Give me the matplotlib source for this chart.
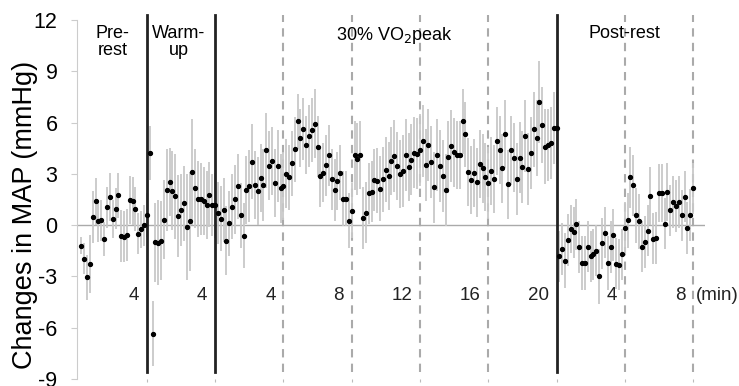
import numpy as np
import matplotlib
matplotlib.use("Agg")
import matplotlib.pyplot as plt

plt.rcParams['font.family'] = ['Liberation Sans', 'DejaVu Sans']
plt.rcParams['axes.unicode_minus'] = False

# mean change in MAP every 10 s (mmHg)
pre_rest = [-1.19, -1.97, -3.05, -2.26, 0.48, 1.39, 0.22, 0.28, -0.79, 1.06, 1.64, 0.35,
            0.95, 1.74, -0.63, -0.67, -0.58, 1.45, 1.42, 0.95, -0.51, -0.25, 0.0, 0.61]
warm_up = [4.23, -6.34, -1.0, -1.02, -0.9, 0.32, 2.07, 2.52, 2.03, 1.68, 0.53, 0.88,
           1.27, -0.12, 0.24, 3.12, 2.15, 1.53, 1.51, 1.43, 1.2, 1.78, 1.19, 1.17]
exercise = [0.71, 0.38, 0.89, -0.9, 0.11, 1.08, 1.51, 2.27, 0.59, -0.61, 2.05, 2.3,
            3.71, 2.35, 1.99, 2.75, 2.36, 4.39, 3.49, 3.74, 2.46, 3.45, 2.15, 2.3,
            3.02, 2.81, 3.61, 4.43, 6.07, 5.1, 5.63, 4.68, 5.21, 5.57, 5.94, 4.6,
            2.85, 3.08, 3.5, 4.08, 2.68, 2.05, 2.6, 3.08, 1.55, 1.55, 0.27, 0.86,
            4.08, 3.86, 4.1, 0.42, 0.74, 1.86, 1.96, 2.64, 2.6, 2.12, 2.7, 3.24,
            2.87, 3.77, 4.03, 3.47, 3.0, 3.18, 4.1, 3.4, 3.84, 4.25, 4.19, 4.39,
            4.93, 3.51, 4.68, 3.69, 2.21, 4.12, 3.45, 2.88, 2.08, 3.98, 4.64, 4.26,
            4.09, 4.09, 6.08, 5.31, 3.1, 2.65, 3.05, 2.5, 3.57, 3.32, 2.81, 2.46,
            3.18, 2.7, 4.94, 4.41, 3.32, 5.34, 2.39, 4.38, 3.96, 2.71, 3.96, 3.41,
            5.24, 3.27, 4.23, 5.62, 5.1, 7.19, 5.86, 4.6, 4.71, 4.79, 5.69, 5.7]
post_rest = [-1.82, -1.4, -2.07, -0.87, -0.22, -0.42, 0.06, -1.27, -2.21, -2.21, -1.26, -1.82,
             -1.7, -1.49, -3.0, -1.07, -0.44, -2.21, -1.27, -0.57, -2.25, -2.3, -1.7, -0.16,
             0.28, 2.8, 2.33, 0.57, 0.23, -1.26, -0.98, -0.32, 1.72, -0.78, -0.75, 1.89,
             1.86, 0.08, 1.92, 0.88, 1.36, 1.12, 1.36, 0.57, 1.67, -0.17, 0.59, 2.15]

# SEM half-lengths of the bars (mmHg)
pre_rest_err = [0.5, 0.9, 1.3, 1.7, 1.5, 1.4, 1.2, 1.2, 1.0, 1.2, 1.4, 1.1,
                1.2, 1.3, 1.5, 1.5, 1.5, 1.4, 1.4, 1.3, 1.2, 1.1, 1.2, 1.3]
warm_up_err = [1.6, 1.9, 2.3, 2.5, 2.3, 2.3, 2.4, 2.0, 2.3, 2.5, 2.4, 2.1,
               2.2, 3.1, 2.9, 3.1, 2.3, 2.2, 2.1, 2.0, 2.0, 1.9, 1.8, 1.9]
exercise_err = [1.8, 1.9, 1.9, 2.0, 1.9, 1.9, 2.0, 1.9, 1.9, 1.9, 2.0, 2.1,
                2.2, 2.0, 2.0, 2.0, 2.1, 2.2, 2.0, 2.0, 2.0, 2.1, 2.0, 2.0,
                2.0, 1.9, 1.9, 1.9, 1.6, 1.7, 1.8, 1.7, 1.8, 1.9, 2.0, 1.8,
                1.8, 1.7, 1.8, 1.8, 1.8, 1.8, 1.7, 1.6, 1.6, 1.6, 1.6, 1.6,
                2.0, 2.1, 2.0, 1.8, 1.8, 1.8, 1.8, 1.8, 1.9, 1.9, 1.9, 1.9,
                2.0, 2.0, 2.1, 2.0, 2.0, 2.1, 2.1, 2.0, 2.1, 2.1, 2.1, 2.1,
                2.1, 2.1, 2.1, 2.1, 2.1, 2.1, 2.1, 2.1, 2.1, 2.1, 2.1, 2.0,
                2.0, 2.0, 1.9, 1.9, 2.0, 2.0, 2.0, 2.0, 2.0, 2.0, 2.0, 2.1,
                2.0, 2.0, 2.0, 2.0, 2.0, 2.0, 2.0, 2.0, 2.0, 2.1, 2.1, 2.1,
                2.1, 2.1, 2.1, 2.2, 2.2, 2.4, 2.2, 2.2, 2.1, 2.1, 2.1, 2.1]
post_rest_err = [1.5, 1.5, 1.6, 1.5, 1.4, 1.5, 1.5, 1.5, 1.6, 1.6, 1.5, 1.5,
                 1.5, 1.5, 1.6, 1.5, 1.5, 1.6, 1.5, 1.5, 1.5, 1.5, 1.5, 1.5,
                 1.6, 1.8, 1.8, 1.6, 1.6, 1.5, 1.5, 1.5, 1.7, 1.5, 1.5, 1.7,
                 1.7, 1.5, 1.7, 1.5, 1.5, 1.5, 1.5, 1.5, 1.5, 1.5, 1.5, 1.5]

phase_names = ['Pre-\nrest', 'Warm-\nup', '30% VO$_2$peak', 'Post-rest']
phase_bounds = [4, 8, 28]              # solid lines (min from start)
dashed_at = [12, 16, 20, 24, 32, 36]   # 4-min marks
tick_text = ['4', '4', '4', '8', '12', '16', '20', '4', '8']
tick_at = [4, 8, 12, 16, 20, 24, 28, 32, 36]

mean = np.array(pre_rest + warm_up + exercise + post_rest)
err = np.array(pre_rest_err + warm_up_err + exercise_err + post_rest_err)
t = np.arange(1, len(mean) + 1) / 6.0

fig = plt.figure(figsize=(7.39, 3.86), dpi=100)
ax = fig.add_axes([0.104, 0.018, 0.85, 0.930])

ax.axhline(0, color='#aaaaaa', lw=1, zorder=1)
ax.errorbar(t, mean, yerr=err, fmt='none', ecolor='#c8c8c8', elinewidth=1.3, zorder=2)
ax.plot(t, mean, 'o', color='black', ms=2.8, zorder=4)

for x in phase_bounds:
    ax.plot([x, x], [-8.6, 12.3], color='#222222', lw=2, clip_on=False, zorder=3)
for x in dashed_at:
    ax.plot([x, x], [-8.6, 12.3], color='#aaaaaa', lw=1.5, ls=(0, (4, 3)), clip_on=False, zorder=1.5)

for x, s in zip(tick_at, tick_text):
    ax.text(x - 0.45, -4.1, s, ha='right', va='center', fontsize=13.5, color='#222222')
ax.text(36.15, -4.1, '(min)', ha='left', va='center', fontsize=13.5, color='#222222')

ax.text(2.0, 11.7, phase_names[0], ha='center', va='top', fontsize=13, linespacing=1.0)
ax.text(5.85, 11.7, phase_names[1], ha='center', va='top', fontsize=13, linespacing=1.0)
ax.text(18.5, 11.7, phase_names[2], ha='center', va='top', fontsize=13)
ax.text(32.0, 11.7, phase_names[3], ha='center', va='top', fontsize=13)

ax.set_xlim(-0.1, 36.7)
ax.set_ylim(-9, 12)
ax.set_yticks([-9, -6, -3, 0, 3, 6, 9, 12])
ax.set_xticks(tick_at)
ax.set_xticklabels([])
ax.tick_params(axis='x', length=2, color='#bbbbbb')
ax.tick_params(axis='y', length=4, color='#cccccc', labelsize=15.5, pad=10)
for side in ['top', 'right', 'bottom']:
    ax.spines[side].set_visible(False)
ax.spines['left'].set_color('#cccccc')
ax.set_ylabel('Changes in MAP (mmHg)', fontsize=19.5)
ax.yaxis.set_label_coords(-0.062, 0.458)

fig.savefig('out.png', dpi=100)
